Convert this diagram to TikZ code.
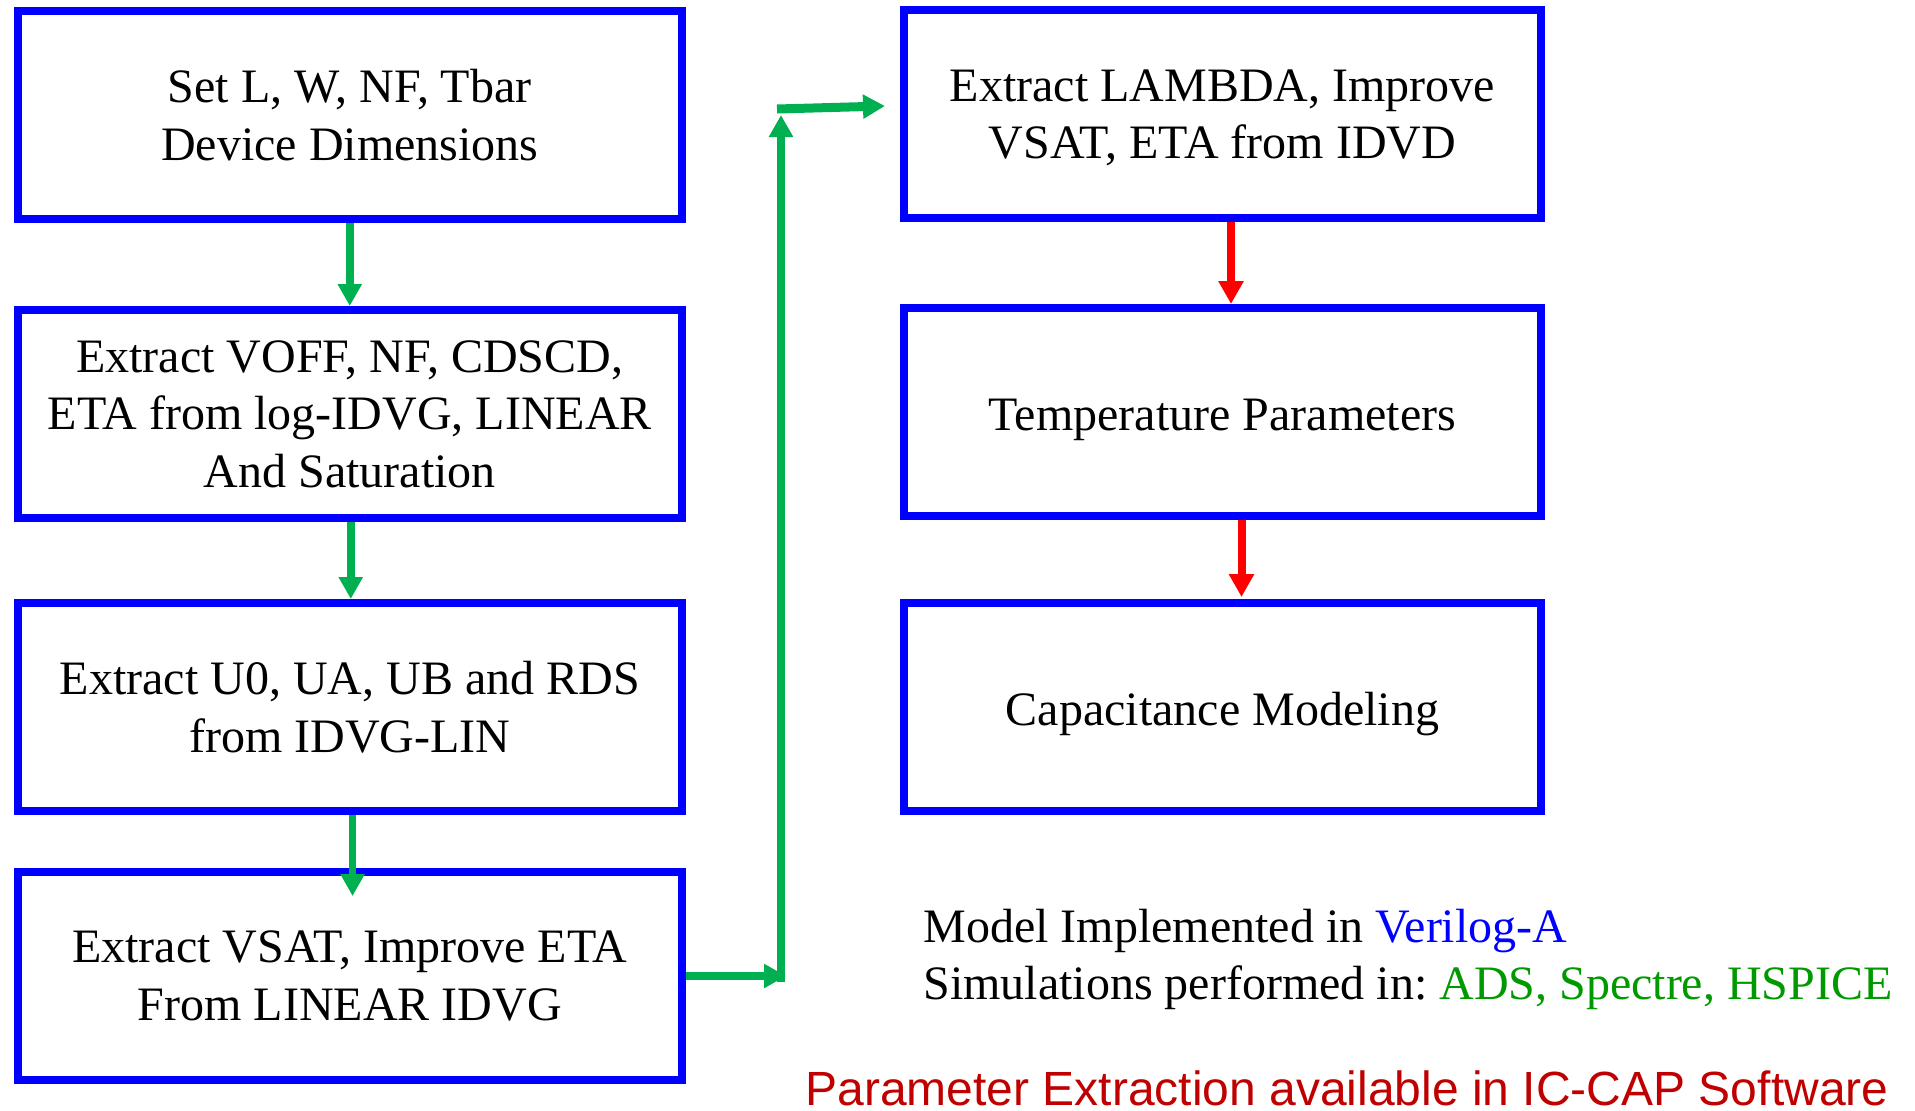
\documentclass[tikz,border=0pt]{standalone}
\usepackage{fontspec}
\setmainfont{Liberation Serif}
\newfontfamily\arialfont{Liberation Sans}
\usetikzlibrary{arrows.meta,calc}
\definecolor{boxblue}{RGB}{0,0,255}
\definecolor{flowgreen}{RGB}{0,176,80}
\definecolor{flowred}{RGB}{255,0,0}
\definecolor{toolgreen}{RGB}{0,153,0}
\definecolor{notered}{RGB}{192,0,0}
\frenchspacing

\begin{document}
\begin{tikzpicture}[x=0.5pt,y=-0.5pt,
  bodyfont/.style={font=\fontsize{24}{28.75}\selectfont},
  stepbox/.style={draw=boxblue, line width=4pt, minimum height=104pt,
    align=center, inner sep=0pt, bodyfont},
  leftbox/.style={stepbox, minimum width=332.25pt},
  rightbox/.style={stepbox, minimum width=318.5pt},
  oneline/.style={text height=18.5pt, text depth=0pt},
  garrow/.style={draw=flowgreen, line width=3.75pt,
    -{Triangle[width=11.5pt,length=11pt]}},
  rarrow/.style={draw=flowred, line width=4pt,
    -{Triangle[width=12pt,length=11.5pt]}},
  notetext/.style={anchor=base west, inner sep=0pt, bodyfont},
]
\useasboundingbox (0,0) rectangle (1915,1110);

% left column of extraction steps
\node[leftbox] (L1) at (349.75,115) {Set L, W, NF, Tbar\\Device Dimensions};
\node[leftbox] (L2) at (349.75,414) {Extract VOFF, NF, CDSCD,\\ETA from log-IDVG, LINEAR\\And Saturation};
\node[leftbox] (L3) at (349.75,707) {Extract U0, UA, UB and RDS\\from IDVG-LIN};
\node[leftbox] (L4) at (349.75,976) {Extract VSAT, Improve ETA\\From LINEAR IDVG};

% right column
\node[rightbox, text depth=0pt] (R1) at (1222.5,114) {Extract LAMBDA, Improve\\VSAT, ETA from IDVD};
\node[rightbox, oneline] (R2) at (1222.5,412) {Temperature Parameters};
\node[rightbox, oneline] (R3) at (1222.5,707) {Capacitance Modeling};

% flow in the left column
\draw[garrow] (L1.south) -- (L2.north);
\draw[garrow] ([xshift=0.5pt]L2.south) -- ([xshift=0.5pt]L3.north);
\draw[garrow] ([xshift=1.4pt]L3.south) -- ([xshift=1.4pt,yshift=-14pt]L4.north);

% hand-over from the left column to the right column
\coordinate (turnlow) at (781,976);
\coordinate (turnhigh) at (781,115);
\coordinate (topstart) at (777,109);
\coordinate (toptip) at (885,106);
\draw[garrow] (L4.east) -- ([xshift=2.5pt]turnlow);
\draw[garrow] ([yshift=-3pt]turnlow) -- (turnhigh);
\draw[garrow, line width=4.5pt] (topstart) -- (toptip);

% flow in the right column
\draw[rarrow] ([xshift=4.25pt]R1.south) -- ([xshift=4.25pt]R2.north);
\draw[rarrow] ([xshift=9.5pt]R2.south) -- ([xshift=9.5pt,yshift=1pt]R3.north);

% notes
\node[notetext] (impl) at (923,942) {Model Implemented in \textcolor{boxblue}{Verilog-A}};
\node[notetext] (sims) at (923,999.5) {Simulations performed in: \textcolor{toolgreen}{ADS, Spectre, HSPICE}};
\node[anchor=base west, inner sep=0pt, text=notered,
  font=\arialfont\fontsize{24}{28.75}\selectfont] (icap) at (805,1105)
  {Parameter Extraction available in IC-CAP Software};
\end{tikzpicture}
\end{document}
